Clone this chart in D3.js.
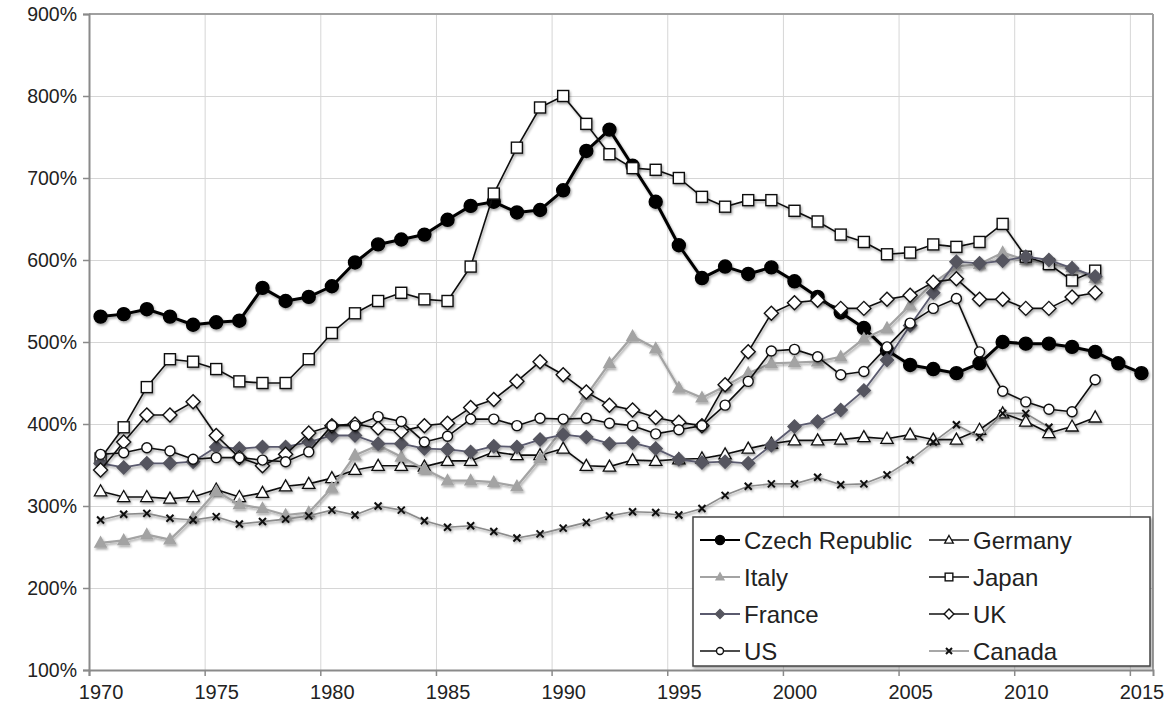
<!DOCTYPE html>
<html><head><meta charset="utf-8">
<script src="https://cdn.jsdelivr.net/npm/d3@7"></script>
<style>
html,body{margin:0;padding:0;background:#fff;}
svg{display:block;font-family:"Liberation Sans",Arial,Helvetica,sans-serif;}
</style></head>
<body>
<svg id="chart" width="1171" height="715"></svg>
<script>
// ---- data (percent), annual from 1970 ----
const startYear = 1970;
const czechRepublic = [531,534,540,531,521,524,526,566,550,555,568,597,619,625,631,649,666,671,658,661,685,733,759,715,671,618,578,592,583,591,574,555,536,517,490,472,467,462,474,500,498,498,494,488,474,462];
const germany = [318,311,311,309,311,320,311,316,324,327,334,344,349,349,348,355,355,366,362,362,370,349,348,356,355,357,358,363,370,376,380,380,381,384,382,387,381,381,393,413,403,389,397,408];
const italy = [255,258,265,259,286,318,302,297,289,292,322,362,374,360,345,331,331,329,324,358,395,435,474,507,492,444,432,446,462,474,475,476,482,504,517,545,572,592,595,609,600,595,591,578];
const japan = [358,396,445,479,476,467,452,450,450,479,511,535,550,560,552,550,592,681,737,786,800,766,729,712,710,700,677,665,673,673,660,647,631,622,607,609,619,616,622,644,604,595,575,587];
const france = [352,347,352,352,354,372,370,372,372,378,386,386,376,376,370,369,366,373,372,381,387,384,376,377,370,357,353,354,352,374,397,403,417,441,478,520,560,598,596,599,604,600,590,580];
const uk = [344,378,411,411,427,386,359,349,363,389,398,400,395,391,398,401,420,430,452,476,460,439,423,417,408,402,398,448,488,535,548,551,541,541,552,557,573,577,552,552,541,541,555,560];
const us = [363,365,371,367,357,359,359,356,354,366,398,398,409,403,378,385,406,406,398,407,406,407,401,398,388,393,398,423,452,489,491,482,460,464,494,523,541,553,488,440,427,418,415,454];
const canada = [283,290,291,285,283,287,278,281,284,288,295,289,300,295,282,274,276,269,261,266,273,280,288,293,292,289,297,313,324,327,327,335,326,327,338,356,378,399,384,413,413,396];

const seriesNames = ["Czech Republic","Germany","Italy","Japan","France","UK","US","Canada"];
const xTickYears = [1970,1975,1980,1985,1990,1995,2000,2005,2010,2015];
const yTickValues = [100,200,300,400,500,600,700,800,900];

// ---- styles ----
const styles = {
  "Czech Republic": {values: czechRepublic, line:"#000", lw:3, shape:"circle", size:6.5, fill:"#000", stroke:"#000"},
  "Germany": {values: germany, line:"#111", lw:1.6, shape:"triangle", size:6.5, fill:"#fff", stroke:"#111"},
  "Italy": {values: italy, line:"#a3a3a3", lw:2.2, shape:"triangle", size:6, fill:"#a3a3a3", stroke:"#a3a3a3"},
  "Japan": {values: japan, line:"#111", lw:1.6, shape:"square", size:5.5, fill:"#fff", stroke:"#111"},
  "France": {values: france, line:"#5a5a6e", lw:1.8, shape:"diamond", size:6.5, fill:"#55555f", stroke:"#55555f"},
  "UK": {values: uk, line:"#111", lw:1.6, shape:"diamond", size:7, fill:"#fff", stroke:"#111"},
  "US": {values: us, line:"#111", lw:1.6, shape:"circle", size:5, fill:"#fff", stroke:"#111"},
  "Canada": {values: canada, line:"#8a8a8a", lw:1.6, shape:"cross", size:3.5, fill:"none", stroke:"#111"}
};

const svg = d3.select("#chart");
const L = 89, R = 1153, T = 14, B = 670;
const x = d3.scaleLinear().domain([1969.5, 2015.5]).range([L, R]);
const y = d3.scaleLinear().domain([100, 900]).range([B, T]);

const defs = svg.append("defs");
const f = defs.append("filter").attr("id","sh").attr("x","-20%").attr("y","-20%").attr("width","140%").attr("height","140%");
f.append("feDropShadow").attr("dx",1.2).attr("dy",1.8).attr("stdDeviation",1.3).attr("flood-color","#000").attr("flood-opacity",0.35);

// gridlines
const gridX = xTickYears.map(v => v - 0.5);
svg.append("g").attr("transform",`translate(0,${B})`)
  .call(d3.axisBottom(x).tickValues(gridX).tickSize(-(B-T)).tickFormat(""))
  .call(g => { g.select(".domain").remove(); g.selectAll("line").attr("stroke","#d6d6d6").attr("stroke-width",1); });
svg.append("g").attr("transform",`translate(${L},0)`)
  .call(d3.axisLeft(y).tickValues(yTickValues).tickSize(-(R-L)).tickFormat(""))
  .call(g => { g.select(".domain").remove(); g.selectAll("line").attr("stroke","#d6d6d6").attr("stroke-width",1.2); });

// frame
svg.append("line").attr("x1",L).attr("x2",R).attr("y1",T).attr("y2",T).attr("stroke","#a0a0a0").attr("stroke-width",2);
svg.append("line").attr("x1",R).attr("x2",R).attr("y1",T).attr("y2",B).attr("stroke","#a0a0a0").attr("stroke-width",2);

// y axis
svg.append("g").attr("transform",`translate(${L},0)`)
  .call(d3.axisLeft(y).tickValues(yTickValues).tickSize(6).tickPadding(6).tickFormat(d => d + "%"))
  .call(g => {
    g.select(".domain").attr("stroke","#8a8a8a").attr("stroke-width",2);
    g.selectAll("line").attr("stroke","#8a8a8a").attr("stroke-width",1.5);
    g.selectAll("text").attr("font-size",19.5).attr("fill","#222").attr("font-family","Liberation Sans, Arial, sans-serif");
  });

// x axis: ticks at boundaries, labels at years
svg.append("g").attr("transform",`translate(0,${B})`)
  .call(d3.axisBottom(x).tickValues(gridX).tickSize(6).tickFormat(""))
  .call(g => {
    g.select(".domain").attr("stroke","#8a8a8a").attr("stroke-width",2);
    g.selectAll("line").attr("stroke","#8a8a8a").attr("stroke-width",1.5);
  });
svg.append("g").attr("transform",`translate(0,${B})`)
  .call(d3.axisBottom(x).tickValues(xTickYears).tickSize(0).tickPadding(15).tickFormat(d3.format("d")))
  .call(g => {
    g.select(".domain").remove();
    g.selectAll("text").attr("font-size",20).attr("fill","#222").attr("font-family","Liberation Sans, Arial, sans-serif");
  });

// marker drawing
function marker(sel, st, cx, cy, s) {
  const sz = s || st.size;
  if (st.shape === "circle") {
    sel.append("circle").attr("cx",cx).attr("cy",cy).attr("r",sz).attr("fill",st.fill).attr("stroke",st.stroke).attr("stroke-width",1.4);
  } else if (st.shape === "square") {
    sel.append("rect").attr("x",cx-sz).attr("y",cy-sz).attr("width",2*sz).attr("height",2*sz).attr("fill",st.fill).attr("stroke",st.stroke).attr("stroke-width",1.4);
  } else if (st.shape === "diamond") {
    sel.append("path").attr("d",`M${cx},${cy-sz}L${cx+sz},${cy}L${cx},${cy+sz}L${cx-sz},${cy}Z`).attr("fill",st.fill).attr("stroke",st.stroke).attr("stroke-width",1.4);
  } else if (st.shape === "triangle") {
    sel.append("path").attr("d",`M${cx},${cy-sz}L${cx+sz*0.95},${cy+sz*0.7}L${cx-sz*0.95},${cy+sz*0.7}Z`).attr("fill",st.fill).attr("stroke",st.stroke).attr("stroke-width",1.3);
  } else if (st.shape === "cross") {
    sel.append("path").attr("d",`M${cx-sz},${cy-sz}L${cx+sz},${cy+sz}M${cx-sz},${cy+sz}L${cx+sz},${cy-sz}`).attr("stroke",st.stroke).attr("stroke-width",2);
  }
}

// series
const plot = svg.append("g");
seriesNames.forEach(name => {
  const st = styles[name];
  const pts = st.values.map((v,i) => [startYear + i, v]);
  const g = plot.append("g").attr("filter","url(#sh)");
  g.append("path").datum(pts)
    .attr("d", d3.line().x(d => x(d[0])).y(d => y(d[1])))
    .attr("fill","none").attr("stroke",st.line).attr("stroke-width",st.lw).attr("stroke-linejoin","round");
  pts.forEach(d => marker(g, st, x(d[0]), y(d[1])));
});

// legend
const lg = svg.append("g");
lg.append("rect").attr("x",693).attr("y",517).attr("width",457).attr("height",149)
  .attr("fill","#fff").attr("stroke","#444").attr("stroke-width",1.5).attr("filter","url(#sh)");
const rowY = [540, 577, 614, 651];
seriesNames.forEach((name, i) => {
  const st = styles[name];
  const col = i % 2, row = Math.floor(i / 2);
  const x0 = col === 0 ? 700 : 929;
  const yy = rowY[row];
  lg.append("line").attr("x1",x0).attr("x2",x0+40).attr("y1",yy).attr("y2",yy).attr("stroke",st.line).attr("stroke-width",Math.min(st.lw,2.2));
  marker(lg, st, x0+20, yy, Math.max(3, st.size*0.7));
  lg.append("text").attr("x",x0+44).attr("y",yy).attr("dy","0.36em").attr("font-size",24).attr("fill","#222").text(name);
});
</script>
</body></html>
